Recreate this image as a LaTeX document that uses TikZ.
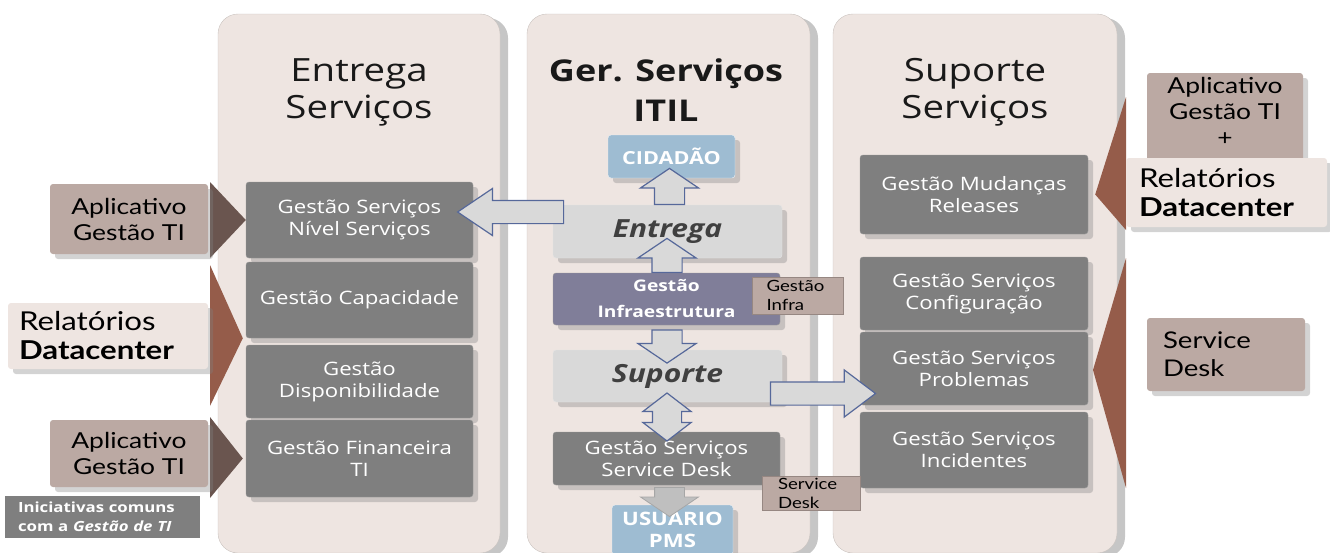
\documentclass[tikz,border=0pt]{standalone}
\usepackage{fontspec}
\setmainfont{Open Sans}[FakeStretch=1.2]
\newfontfamily\gill{Lato}[FakeStretch=1.2]
\usetikzlibrary{shapes.arrows, shadows, calc, positioning}
\definecolor{panelbg}{HTML}{EEE5E1}
\definecolor{procgrey}{HTML}{7F7F7F}
\definecolor{lightgrey}{HTML}{D9D9D9}
\definecolor{taupe}{HTML}{BBA9A3}
\definecolor{darkbrown}{HTML}{6A554F}
\definecolor{redbrown}{HTML}{955C4A}
\definecolor{skyblue}{HTML}{9EBCD2}
\definecolor{slate}{HTML}{807E99}
\definecolor{arrowline}{HTML}{56689A}

\begin{document}
\begin{tikzpicture}[x=1pt, y=-1pt,
    shade/.style={drop shadow={shadow xshift=5pt, shadow yshift=-5pt, opacity=.35}},
    panel/.style={fill=panelbg, draw=panelbg!85!black, rounded corners=20pt,
        drop shadow={shadow xshift=8pt, shadow yshift=-4pt, opacity=.45}},
    title/.style={align=center, text=black!90, font=\fontsize{32}{37}\selectfont},
    procbox/.style={fill=procgrey, draw=procgrey!80!white, rounded corners=3pt, text=white,
        align=center, shade, font=\fontsize{18.5}{22}\selectfont},
    phasebox/.style={fill=lightgrey, draw=white!90!black, rounded corners=3pt, text=black!75,
        shade, font=\fontsize{25}{28}\selectfont\bfseries\itshape},
    endbox/.style={fill=skyblue, draw=white!80!skyblue, rounded corners=3pt, text=white,
        align=center, shade, font=\fontsize{18}{22}\selectfont\bfseries},
    label/.style={fill=taupe, rounded corners=3pt, text=black, shade, font=\gill\fontsize{22}{26}\selectfont},
    lightlabel/.style={fill=panelbg, rounded corners=3pt, text=black, shade, font=\gill\fontsize{26}{29}\selectfont},
    tag/.style={fill=taupe, draw=taupe!80!black, text=black, align=left, inner sep=0pt,
        font=\gill\fontsize{15.5}{19}\selectfont},
    vtarrow/.style={single arrow, shape border rotate=90, draw=arrowline, fill=lightgrey, line width=1.2pt,
        inner xsep=14.5pt, inner ysep=0pt, single arrow head extend=14pt, single arrow tip angle=112},
    hzarrow/.style={single arrow, draw=arrowline, fill=lightgrey, line width=1.2pt,
        inner xsep=0pt, inner ysep=11pt, single arrow head extend=12pt}
]
\useasboundingbox (0,0) rectangle (1330,552);

% colunas
\node[panel, minimum width=282pt, minimum height=539pt] (pnlEntrega) at (359,283.5) {};
\node[panel, minimum width=283pt, minimum height=539pt] (pnlItil) at (668.5,283.5) {};
\node[panel, minimum width=284pt, minimum height=539pt] (pnlSuporte) at (975,283.5) {};

\node[title] (tEntrega) at (359,92) {Entrega\\Serviços};
\node[title, font=\fontsize{30}{40}\selectfont\bfseries] (tItil) at (666,90) {Ger. Serviços\\ITIL};
\node[title] (tSuporte) at (975,92) {Suporte\\Serviços};

% entrega de servicos
\node[procbox, minimum width=227pt, minimum height=76pt] (nivel) at (359.5,220) {Gestão Serviços\\Nível Serviços};
\node[procbox, minimum width=227pt, minimum height=76pt] (capac) at (359.5,300) {Gestão Capacidade};
\node[procbox, minimum width=227pt, minimum height=73pt] (dispon) at (359.5,381.5) {Gestão\\Disponibilidade};
\node[procbox, minimum width=227pt, minimum height=77pt] (financ) at (359.5,458.5) {Gestão Financeira\\TI};

% suporte de servicos
\node[procbox, minimum width=228pt, minimum height=79pt] (mudancas) at (974,194.5) {Gestão Mudanças\\Releases};
\node[procbox, minimum width=228pt, minimum height=73pt] (config) at (974,293.5) {Gestão Serviços\\Configuração};
\node[procbox, minimum width=228pt, minimum height=73pt] (problemas) at (974,368.5) {Gestão Serviços\\Problemas};
\node[procbox, minimum width=228pt, minimum height=76pt] (incid) at (974,450) {Gestão Serviços\\Incidentes};

% ITIL
\node[endbox, minimum width=127pt, minimum height=43pt] (cidadao) at (671.5,156.5) {CIDADÃO};
\node[phasebox, minimum width=229pt, minimum height=53pt] (entrega) at (667.5,231.5) {Entrega};
\node[procbox, fill=slate, minimum width=227pt, minimum height=52pt,
      font=\fontsize{16}{26}\selectfont\bfseries] (infra) at (666.5,299) {Gestão\\Infraestrutura};
\node[phasebox, minimum width=229pt, minimum height=52pt] (suporte) at (667.5,376) {Suporte};
\node[procbox, minimum width=227pt, minimum height=53pt] (sdmid) at (666.5,458.5) {Gestão Serviços\\Service Desk};
\node[endbox, minimum width=121pt, minimum height=50pt, font=\fontsize{18.5}{22}\selectfont\bfseries] (usuario) at (672.5,530) {USUARIO\\PMS};
\node[tag, minimum width=91pt, minimum height=37pt, text width=62pt] (ginfra) at (797.5,295.5) {Gestão\\Infra};
\node[tag, minimum width=98pt, minimum height=34pt, text width=66pt] (gsd) at (811,493) {Service\\Desk};

\node[vtarrow, minimum height=36pt] (a1) at ($(entrega.north)!.5!(cidadao.south)$) {};
\node[vtarrow, minimum height=34pt] (a2) at ($(infra.north)!.5!(entrega.south)+(0,-5)$) {};
\node[vtarrow, shape border rotate=270, minimum height=33pt] (a3) at ($(infra.south)!.5!(suporte.north)+(0,4)$) {};
\node[double arrow, shape border rotate=90, draw=arrowline, fill=lightgrey, line width=1.2pt,
      inner xsep=14pt, inner ysep=0pt, double arrow head extend=9.5pt, double arrow tip angle=105,
      minimum height=48pt] (a4) at ($(suporte.south)!.5!(sdmid.north)$) {};
\node[vtarrow, shape border rotate=270, draw=black!35, fill=black!25, line width=.8pt, minimum height=29pt] (a5)
      at ($(sdmid.south)!.5!(usuario.north)+(0,2)$) {};
\node[hzarrow, shape border rotate=180, single arrow tip angle=68, minimum height=106pt] (a6)
      at ($(nivel.east)+(46,-8)$) {};
\node[hzarrow, single arrow tip angle=74, minimum height=105pt] (a7)
      at ($(problemas.west)+(-44.5,25)$) {};

% entradas a esquerda
\fill[darkbrown] (210,182) -- (nivel.west) -- (210,258) -- cycle;
\fill[redbrown] (210,265) -- ([xshift=-3pt]capac.south west) -- (210,406) -- cycle;
\fill[darkbrown] (210,417) -- ([xshift=-3pt]financ.west) -- (210,498) -- cycle;
\node[label, minimum width=158pt, minimum height=70pt, align=center] (appA) at (129,219) {Aplicativo\\Gestão TI};
\node[lightlabel, minimum width=200pt, minimum height=66pt, align=left, text width=178pt] (relA) at (108,336)
      {Relatórios\\\textbf{Datacenter}};
\node[label, minimum width=158pt, minimum height=67pt, align=center] (appB) at (129,453.5) {Aplicativo\\Gestão TI};
\node[fill=procgrey, text=white, minimum width=195pt, minimum height=42pt, align=left, text width=169pt,
      inner xsep=13pt, inner ysep=0pt, font=\fontsize{14}{19}\selectfont\bfseries] (inic) at (102.5,517)
      {Iniciativas comuns\\com a \textit{Gestão de TI}};

% entradas a direita
\fill[redbrown] (1126,97) -- ([xshift=7pt]mudancas.east) -- (1126,230) -- cycle;
\fill[redbrown] (1126,258) -- (1093,370) -- (1126,488) -- cycle;
\node[label, minimum width=156pt, minimum height=90pt, align=center, text depth=14pt] (appC) at (1225,118)
      {Aplicativo\\Gestão TI\\+};
\node[lightlabel, minimum width=201pt, minimum height=69pt, align=left, text width=175pt] (relB) at (1226.5,192.5)
      {Relatórios\\\textbf{Datacenter}};
\node[label, minimum width=158pt, minimum height=73pt, align=left, text width=126pt,
      font=\gill\fontsize{23}{28}\selectfont] (sdesk) at (1226,354.5) {Service\\Desk};
\end{tikzpicture}
\end{document}
